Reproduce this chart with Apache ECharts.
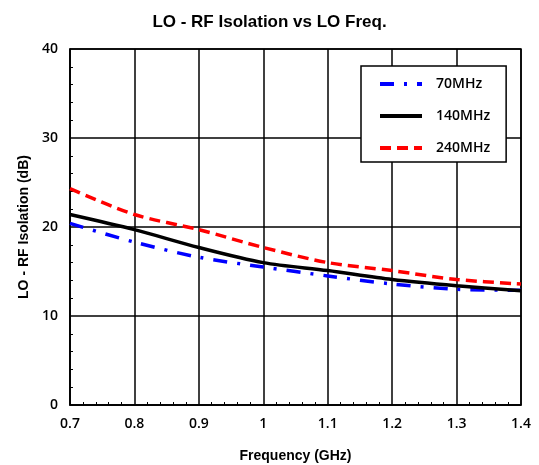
<!DOCTYPE html>
<html><head><meta charset="utf-8">
<script src="https://cdn.jsdelivr.net/npm/echarts@6/dist/echarts.min.js"></script>
<style>html,body{margin:0;padding:0;background:#fff}#c{width:539px;height:465px}</style>
</head><body><div id="c"></div>
<script>
const freqs = [0.7, 0.8, 0.9, 1.0, 1.1, 1.2, 1.3, 1.4];
const iso70 = [20.4, 18.3, 16.6, 15.5, 14.5, 13.6, 13.0, 12.9];
const iso140 = [21.4, 19.7, 17.7, 16.0, 15.1, 14.1, 13.4, 12.85];
const iso240 = [24.3, 21.4, 19.7, 17.7, 16.0, 15.1, 14.1, 13.6];
const seriesNames = ['70MHz', '140MHz', '240MHz'];
const xTicks = [0.7, 0.8, 0.9, 1.0, 1.1, 1.2, 1.3, 1.4];
const yTicks = [0, 10, 20, 30, 40];

const pair = arr => freqs.map((f, i) => [f, arr[i]]);
const chart = echarts.init(document.getElementById('c'));
const tickFont = {fontFamily: 'Open Sans', fontWeight: 600, fontSize: 14, color: '#000'};
chart.setOption({
  animation: false,
  title: {text: 'LO - RF Isolation vs LO Freq.', left: 'center', top: 9,
    textStyle: {fontFamily: 'Liberation Sans', fontWeight: 'bold', fontSize: 17, color: '#000'}},
  grid: {left: 70, right: 18, top: 49, bottom: 60, show: true, borderColor: '#000', borderWidth: 1.5,
    outerBoundsMode: 'none', containLabel: false},
  legend: {
    data: seriesNames, orient: 'vertical', left: 361, top: 66,
    backgroundColor: '#fff', borderColor: '#000', borderWidth: 1.5,
    padding: [9, 16, 5, 17], itemGap: 14, itemWidth: 42, itemHeight: 18,
    itemStyle: {opacity: 0},
    lineStyle: {width: 4},
    textStyle: {fontFamily: 'Open Sans', fontWeight: 600, fontSize: 14, color: '#000', padding: [0, 0, 0, 9], lineHeight: 18, height: 18},
    formatter: n => n
  },
  xAxis: {
    type: 'value', min: 0.7, max: 1.4, interval: 0.1,
    name: 'Frequency (GHz)', nameLocation: 'middle', nameGap: 44,
    nameTextStyle: {fontFamily: 'Liberation Sans', fontWeight: 'bold', fontSize: 14, color: '#000'},
    axisLine: {lineStyle: {color: '#000', width: 1.5}},
    axisTick: {show: false},
    minorTick: {show: true, splitNumber: 5, length: -3, lineStyle: {color: '#000', width: 1}},
    axisLabel: Object.assign({margin: 12, formatter: v => {const t = xTicks.find(x => Math.abs(x - v) < 1e-6); return t === undefined ? '' : String(+t.toFixed(1));}}, tickFont),
    splitLine: {show: true, lineStyle: {color: '#000', width: 1.5}}
  },
  yAxis: {
    type: 'value', min: 0, max: 40, interval: 10,
    name: 'LO - RF Isolation (dB)', nameLocation: 'middle', nameGap: 33,
    nameTextStyle: {fontFamily: 'Liberation Sans', fontWeight: 'bold', fontSize: 14, color: '#000'},
    axisLine: {lineStyle: {color: '#000', width: 1.5}},
    axisTick: {show: false},
    minorTick: {show: true, splitNumber: 5, length: -3, lineStyle: {color: '#000', width: 1}},
    axisLabel: Object.assign({margin: 12, formatter: v => yTicks.includes(v) ? String(v) : ''}, tickFont),
    splitLine: {show: true, lineStyle: {color: '#000', width: 1.5}}
  },
  series: [
    {name: seriesNames[0], type: 'line', data: pair(iso70), smooth: 0.3, symbol: 'none', z: 3,
      lineStyle: {color: '#0000ff', width: 3.5, type: [14, 10, 3, 10]}, itemStyle: {color: '#0000ff'}},
    {name: seriesNames[1], type: 'line', data: pair(iso140), smooth: 0.3, symbol: 'none', z: 4,
      lineStyle: {color: '#000', width: 3.5, type: 'solid'}, itemStyle: {color: '#000'}},
    {name: seriesNames[2], type: 'line', data: pair(iso240), smooth: 0.3, symbol: 'none', z: 5,
      lineStyle: {color: '#ff0000', width: 3.5, type: [11, 6]}, itemStyle: {color: '#ff0000'}}
  ]
});
</script></body></html>
